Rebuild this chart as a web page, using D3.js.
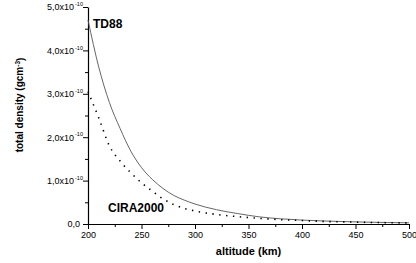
<!DOCTYPE html>
<html>
<head>
<meta charset="utf-8" />
<script src="https://d3js.org/d3.v7.min.js"></script>
<style>
  body { margin: 0; background: #fff; }
  text { font-family: Arial, "Liberation Sans", sans-serif; fill: #000; }
</style>
</head>
<body>
<script>
  // altitude (km) and total density (units of 1e-10 g/cm3)
  var altitude = [200, 210, 220, 230, 240, 250, 260, 270, 280, 290, 300, 320, 340, 360, 380, 400, 420, 440, 460, 480, 500];
  var td88     = [4.70, 3.62, 2.80, 2.20, 1.68, 1.30, 1.03, 0.82, 0.66, 0.55, 0.46, 0.33, 0.24, 0.165, 0.12, 0.09, 0.07, 0.055, 0.043, 0.034, 0.027];
  var cira2000 = [3.05, 2.45, 1.80, 1.45, 1.18, 0.95, 0.76, 0.58, 0.45, 0.36, 0.30, 0.22, 0.17, 0.13, 0.10, 0.08, 0.06, 0.048, 0.038, 0.030, 0.025];
  var xTicks = [200, 250, 300, 350, 400, 450, 500];
  var yTicks = [0, 1, 2, 3, 4, 5];
  var yTickLabels = ["0,0", "1,0x10", "2,0x10", "3,0x10", "4,0x10", "5,0x10"];

  var w = 416, h = 263;
  var mLeft = 88, mRight = 409, mTop = 7, mBottom = 224;

  var svg = d3.select("body").append("svg")
              .attr("width", w)
              .attr("height", h);

  var x = d3.scaleLinear().domain([200, 500]).range([mLeft, mRight]);
  var y = d3.scaleLinear().domain([0, 5]).range([mBottom, mTop]);

  // minor ticks
  svg.append("g")
     .attr("transform", "translate(0," + mBottom + ")")
     .call(d3.axisBottom(x).tickValues(d3.range(225, 500, 50)).tickSize(3).tickFormat(""))
     .call(function(g) { g.select(".domain").remove(); });
  svg.append("g")
     .attr("transform", "translate(" + mLeft + ",0)")
     .call(d3.axisLeft(y).tickValues(d3.range(0.5, 5, 1)).tickSize(3).tickFormat(""))
     .call(function(g) { g.select(".domain").remove(); });

  // x axis
  var xa = svg.append("g")
     .attr("transform", "translate(0," + mBottom + ")")
     .call(d3.axisBottom(x).tickValues(xTicks).tickSize(5).tickSizeOuter(0).tickPadding(3));
  xa.selectAll("text").style("font-size", "9px").style("font-family", "Arial, 'Liberation Sans', sans-serif");

  // y axis
  var ya = svg.append("g")
     .attr("transform", "translate(" + mLeft + ",0)")
     .call(d3.axisLeft(y).tickValues(yTicks).tickSize(5).tickSizeOuter(0).tickFormat(""));
  ya.selectAll(".tick").each(function(d, i) {
      d3.select(this).append("text")
        .attr("x", i === 0 ? -8 : -14)
        .attr("dy", "0.32em")
        .attr("text-anchor", "end")
        .style("font-size", "9px")
        .style("font-family", "Arial, 'Liberation Sans', sans-serif")
        .style("fill", "#000")
        .text(yTickLabels[i]);
      if (i > 0) {
        d3.select(this).append("text")
          .attr("x", -13)
          .attr("dy", "-0.25em")
          .attr("text-anchor", "start")
          .style("font-size", "5.5px")
          .style("font-family", "Arial, 'Liberation Sans', sans-serif")
          .style("fill", "#000")
          .text("-10");
      }
  });
  svg.selectAll(".domain").attr("stroke-width", 1.2);

  // curves
  var line = d3.line()
               .x(function(d) { return x(d[0]); })
               .y(function(d) { return y(d[1]); })
               .curve(d3.curveMonotoneX);

  svg.append("path")
     .datum(d3.zip(altitude, td88))
     .attr("fill", "none")
     .attr("stroke", "#555")
     .attr("stroke-width", 0.9)
     .attr("d", line);

  svg.append("path")
     .datum(d3.zip(altitude, cira2000))
     .attr("fill", "none")
     .attr("stroke", "#000")
     .attr("stroke-width", 1.6)
     .attr("stroke-dasharray", "1.4,5.5")
     .attr("d", line);

  // labels
  svg.append("text").attr("x", 93).attr("y", 28)
     .style("font-size", "12px").style("font-weight", "bold").text("TD88");
  svg.append("text").attr("x", 108).attr("y", 212)
     .style("font-size", "12px").style("font-weight", "bold").text("CIRA2000");

  svg.append("text")
     .attr("x", (mLeft + mRight) / 2)
     .attr("y", 255)
     .attr("text-anchor", "middle")
     .style("font-size", "11px").style("font-weight", "bold")
     .text("altitude (km)");

  var yt = svg.append("text")
     .attr("transform", "translate(23,105) rotate(-90)")
     .attr("text-anchor", "middle")
     .style("font-size", "10px").style("font-weight", "bold");
  yt.append("tspan").text("total density (gcm");
  yt.append("tspan").attr("dy", "-0.4em").style("font-size", "6.5px").text("-3");
  yt.append("tspan").attr("dy", "0.4em").text(")");
</script>
</body>
</html>
